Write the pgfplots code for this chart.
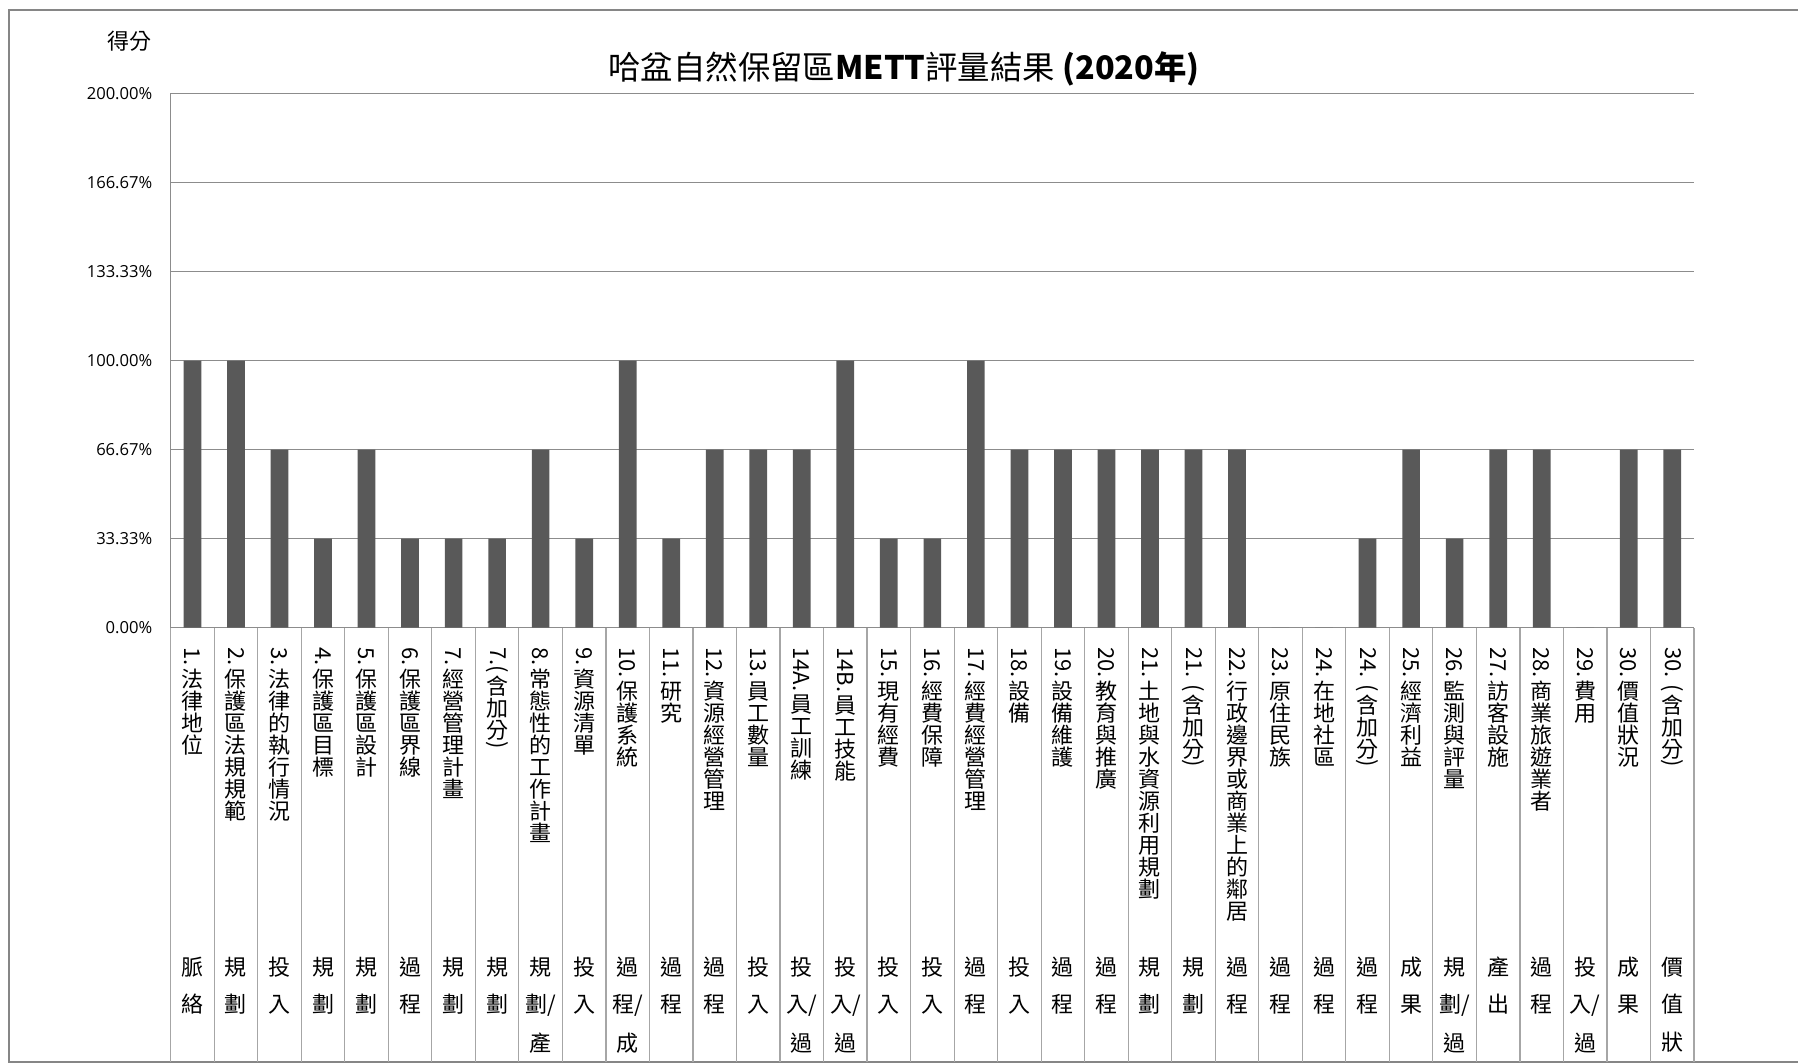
\documentclass[border=0pt]{standalone}
\usepackage{fontspec}
\setmainfont{Noto Sans CJK TC}
\newfontfamily\tickfont{Open Sans}
\usepackage{graphicx}
\usepackage{pgfplots}
\pgfplotsset{compat=1.18}

\definecolor{barfill}{HTML}{595959}
\definecolor{gridc}{HTML}{8C8C8C}
\definecolor{sepc}{HTML}{A6A6A6}
\definecolor{framec}{HTML}{868686}

% one upright CJK character, one em tall
\newcommand\cjkbox[1]{\hbox to 11pt{\hss\vrule height .88em depth .12em width 0pt\relax #1\hss}}
% Latin run turned clockwise inside the vertical label
\newcommand\R[1]{\hbox to 11pt{\hss\rotatebox{-90}{#1}\hss}\kern1pt}
\ExplSyntaxOn
\NewDocumentCommand\V{m}{\tl_map_inline:nn {#1} {\cjkbox{##1}}}
\NewDocumentCommand\B{m}{
  \seq_set_split:Nnn \l_tmpa_seq {|} {#1}
  \seq_map_inline:Nn \l_tmpa_seq {\cjkbox{##1}\kern 7.75pt}
}
\ExplSyntaxOff
% category label: vertical item name on top, indicator type below
\newcommand\lab[2]{\vbox{\offinterlineskip\vbox to 154.3pt{\offinterlineskip #1\vss}\B{#2}}}

\begin{document}
\begin{tikzpicture}
\useasboundingbox (0,0) rectangle (899pt,-531.5pt);
% chart frame
\draw[framec, line width=1pt] (905pt,-5pt) -- (4.5pt,-5pt) -- (4.5pt,-531pt) -- (905pt,-531pt);
\node[font=\fontsize{11}{11}\selectfont] at (64.5pt,-20.5pt) {得分};
\node[font=\fontsize{16.2}{16.2}\selectfont] at (452pt,-34.4pt)
  {哈盆自然保留區{\bfseries METT}評量結果 {\bfseries (2020年)}};
\begin{axis}[
  at={(85.35pt,-313.85pt)}, anchor=south west,
  scale only axis, width=761.65pt, height=267.2pt,
  xmin=-0.5, xmax=34.5, ymin=0, ymax=2,
  enlargelimits=false,
  axis x line*=bottom, axis y line*=left,
  axis line style={draw=gridc, line width=0.5pt},
  ymajorgrids, grid style={draw=gridc, line width=0.5pt},
  ytick={0,0.3333,0.6667,1,1.3333,1.6667,2},
  yticklabels={0.00\%,33.33\%,66.67\%,100.00\%,133.33\%,166.67\%,200.00\%},
  yticklabel style={font=\tickfont\fontsize{8.3}{8.3}\selectfont, anchor=east, inner sep=0pt, xshift=-9pt},
  xtick={0,...,34},
  xticklabels={
    {\lab{\R{1.}\V{法律地位}}{脈|絡}},
    {\lab{\R{2.}\V{保護區法規規範}}{規|劃}},
    {\lab{\R{3.}\V{法律的執行情況}}{投|入}},
    {\lab{\R{4.}\V{保護區目標}}{規|劃}},
    {\lab{\R{5.}\V{保護區設計}}{規|劃}},
    {\lab{\R{6.}\V{保護區界線}}{過|程}},
    {\lab{\R{7.}\V{經營管理計畫}}{規|劃}},
    {\lab{\R{7.(}\V{含加分}\R{)}}{規|劃}},
    {\lab{\R{8.}\V{常態性的工作計畫}}{規|劃/|產}},
    {\lab{\R{9.}\V{資源清單}}{投|入}},
    {\lab{\R{10.}\V{保護系統}}{過|程/|成}},
    {\lab{\R{11.}\V{研究}}{過|程}},
    {\lab{\R{12.}\V{資源經營管理}}{過|程}},
    {\lab{\R{13.}\V{員工數量}}{投|入}},
    {\lab{\R{14A.}\V{員工訓練}}{投|入/|過}},
    {\lab{\R{14B.}\V{員工技能}}{投|入/|過}},
    {\lab{\R{15.}\V{現有經費}}{投|入}},
    {\lab{\R{16.}\V{經費保障}}{投|入}},
    {\lab{\R{17.}\V{經費經營管理}}{過|程}},
    {\lab{\R{18.}\V{設備}}{投|入}},
    {\lab{\R{19.}\V{設備維護}}{過|程}},
    {\lab{\R{20.}\V{教育與推廣}}{過|程}},
    {\lab{\R{21.}\V{土地與水資源利用規劃}}{規|劃}},
    {\lab{\R{21. (}\V{含加分}\R{)}}{規|劃}},
    {\lab{\R{22.}\V{行政邊界或商業上的鄰居}}{過|程}},
    {\lab{\R{23.}\V{原住民族}}{過|程}},
    {\lab{\R{24.}\V{在地社區}}{過|程}},
    {\lab{\R{24. (}\V{含加分}\R{)}}{過|程}},
    {\lab{\R{25.}\V{經濟利益}}{成|果}},
    {\lab{\R{26.}\V{監測與評量}}{規|劃/|過}},
    {\lab{\R{27.}\V{訪客設施}}{產|出}},
    {\lab{\R{28.}\V{商業旅遊業者}}{過|程}},
    {\lab{\R{29.}\V{費用}}{投|入/|過}},
    {\lab{\R{30.}\V{價值狀況}}{成|果}},
    {\lab{\R{30. (}\V{含加分}\R{)}}{價|值|狀}}
  },
  xticklabel style={anchor=north, inner sep=0pt, yshift=-9.65pt, font=\fontsize{11}{11}\selectfont},
  minor xtick={-0.5,0.5,...,34.5},
  tick align=outside,
  major tick length=0pt,
  minor tick length=217.2pt,
  minor tick style={draw=sepc, line width=0.6pt},
  ybar, bar width=8.85pt,
]
\addplot[fill=barfill, draw=none] coordinates {
  (0,1) (1,1) (2,0.6667) (3,0.3333) (4,0.6667) (5,0.3333) (6,0.3333)
  (7,0.3333) (8,0.6667) (9,0.3333) (10,1) (11,0.3333) (12,0.6667)
  (13,0.6667) (14,0.6667) (15,1) (16,0.3333) (17,0.3333) (18,1)
  (19,0.6667) (20,0.6667) (21,0.6667) (22,0.6667) (23,0.6667)
  (24,0.6667) (25,0) (26,0) (27,0.3333) (28,0.6667) (29,0.3333)
  (30,0.6667) (31,0.6667) (32,0) (33,0.6667) (34,0.6667)
};
\end{axis}
\end{tikzpicture}
\end{document}
